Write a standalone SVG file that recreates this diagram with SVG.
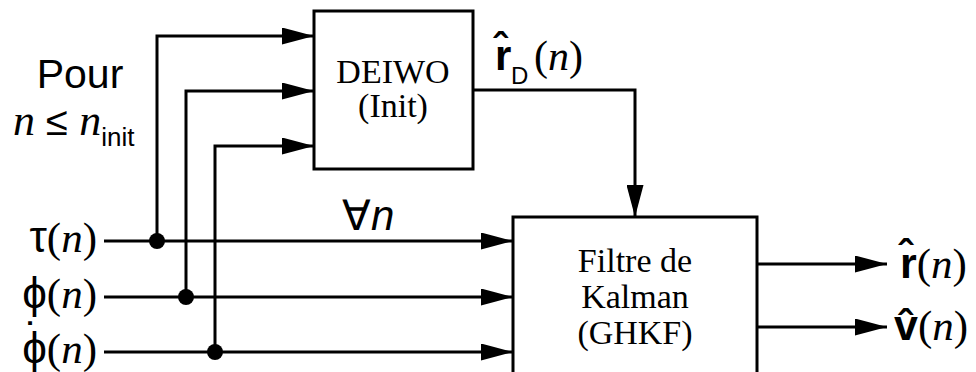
<svg xmlns="http://www.w3.org/2000/svg" width="976" height="372" viewBox="0 0 976 372">
<style>
.ln{fill:none;stroke:#000;stroke-width:3}
.bx{fill:#fff;stroke:#000;stroke-width:3}
.tm{font-family:"Liberation Serif","Times New Roman",serif;fill:#000}
.sn{font-family:"Liberation Sans",Arial,sans-serif;fill:#000}
.it{font-style:italic}
.bd{font-weight:bold}
.box{font-size:34px;text-anchor:middle}
</style>
<defs>
<marker id="ah" markerUnits="userSpaceOnUse" markerWidth="32" markerHeight="17" refX="32" refY="8.5" orient="auto">
<path d="M0,0 L32,8.5 L0,17 z" fill="#000"/>
</marker>
</defs>
<g id="connectors">
<path class="ln" d="M104,241 H513" marker-end="url(#ah)"/>
<path class="ln" d="M104,297 H513" marker-end="url(#ah)"/>
<path class="ln" d="M104,352 H513" marker-end="url(#ah)"/>
<path class="ln" d="M157,241 V36 H314" marker-end="url(#ah)"/>
<path class="ln" d="M186,297 V91 H314" marker-end="url(#ah)"/>
<path class="ln" d="M215,352 V146 H314" marker-end="url(#ah)"/>
<path class="ln" d="M473,90 H635 V217" marker-end="url(#ah)"/>
<path class="ln" d="M757,264 H887" marker-end="url(#ah)"/>
<path class="ln" d="M757,327 H887" marker-end="url(#ah)"/>
<circle cx="157" cy="241" r="8"/>
<circle cx="186" cy="297" r="8"/>
<circle cx="215" cy="352" r="8"/>
<text class="sn" x="342" y="230" font-size="42">∀<tspan class="it">n</tspan></text>
<text class="tm" y="70" font-size="42"><tspan class="sn bd" x="495">r̂</tspan><tspan class="sn" x="511" y="84" font-size="24">D</tspan><tspan x="534" y="70">(</tspan><tspan class="it">n</tspan>)</text>
</g>
<g id="deiwo">
<rect class="bx" x="314" y="11" width="159" height="158"/>
<text class="tm box" x="393" y="83">DEIWO</text>
<text class="tm box" x="393" y="117">(Init)</text>
</g>
<g id="kalman">
<rect class="bx" x="513" y="217" width="244" height="170"/>
<text class="tm box" x="635" y="272">Filtre de</text>
<text class="tm box" x="635" y="308">Kalman</text>
<text class="tm box" x="635" y="344">(GHKF)</text>
</g>
<g id="cond">
<text class="sn" x="80" y="88" font-size="41" text-anchor="middle">Pour</text>
<text class="tm" x="13" y="135" font-size="44"><tspan class="it">n</tspan><tspan class="sn" font-size="40"> ≤ </tspan><tspan class="it">n</tspan><tspan class="sn" font-size="26" y="146">init</tspan></text>
</g>
<g id="in-tau"><text class="tm" x="97" y="252" font-size="43" text-anchor="end"><tspan class="sn" font-size="44">τ</tspan>(<tspan class="it">n</tspan>)</text></g>
<g id="in-phi"><text class="tm" x="97" y="308" font-size="43" text-anchor="end"><tspan class="sn" font-size="44">ϕ</tspan>(<tspan class="it">n</tspan>)</text></g>
<g id="in-phidot"><text class="tm" x="97" y="363" font-size="43" text-anchor="end"><tspan class="sn" font-size="44">ϕ</tspan>(<tspan class="it">n</tspan>)</text>
<text class="sn" x="32" y="354" font-size="44" text-anchor="middle">˙</text></g>
<g id="out-r"><text class="tm" x="900" y="278" font-size="43"><tspan class="sn bd">r̂</tspan>(<tspan class="it">n</tspan>)</text></g>
<g id="out-v"><text class="tm" x="894" y="340" font-size="43"><tspan class="sn bd">v̂</tspan>(<tspan class="it">n</tspan>)</text></g>
</svg>
